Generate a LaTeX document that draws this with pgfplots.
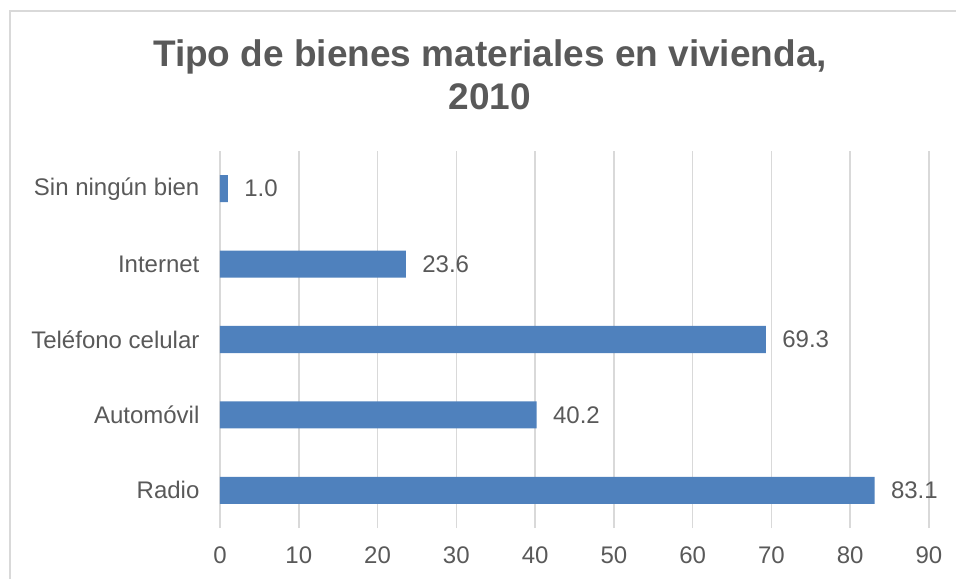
\documentclass[border=0pt]{standalone}
\usepackage{pgfplots}
\pgfplotsset{compat=1.18}
\usepackage{fontspec}
\setmainfont{Liberation Sans}
\definecolor{barblue}{HTML}{4F81BD}
\definecolor{txt}{HTML}{595959}
\definecolor{gridc}{HTML}{D9D9D9}
\begin{document}
\begin{tikzpicture}
\useasboundingbox (-110pt,-25pt) rectangle (368pt,264pt);
\draw[gridc, line width=1pt] (-105pt,-30pt) -- (-105pt,258.5pt) -- (375pt,258.5pt);
\node[text=txt, font=\bfseries\fontsize{18.5}{21.5}\selectfont, align=center] at (135pt,226.75pt) {Tipo de bienes materiales en vivienda,\\2010};
\begin{axis}[
 at={(0pt,0pt)}, anchor=south west,
 scale only axis, width=354.5pt, height=188.5pt,
 xbar, bar width=13.5pt,
 xmin=0, xmax=90, ymin=-0.5, ymax=4.5,
 xtick={0,10,...,90},
 ytick={0,1,2,3,4},
 yticklabels={Radio,Automóvil,Teléfono celular,Internet,Sin ningún bien},
 axis line style={draw=none},
 tick style={draw=none},
 xmajorgrids, major grid style={gridc, line width=0.75pt},
 ticklabel style={font=\fontsize{12}{14}\selectfont, text=txt},
 xticklabel style={yshift=-6pt},
 yticklabel style={xshift=-2.5pt},
 /pgf/number format/assume math mode=true,
 nodes near coords={\pgfmathprintnumber[fixed,fixed zerofill,precision=1]{\pgfplotspointmeta}},
 nodes near coords style={font=\fontsize{12}{14}\selectfont, text=txt, anchor=west, inner sep=3pt, xshift=5pt},
]
\addplot[fill=barblue, draw=none] coordinates {(83.1,0) (40.2,1) (69.3,2) (23.6,3) (1.0,4)};
\end{axis}
\end{tikzpicture}
\end{document}
